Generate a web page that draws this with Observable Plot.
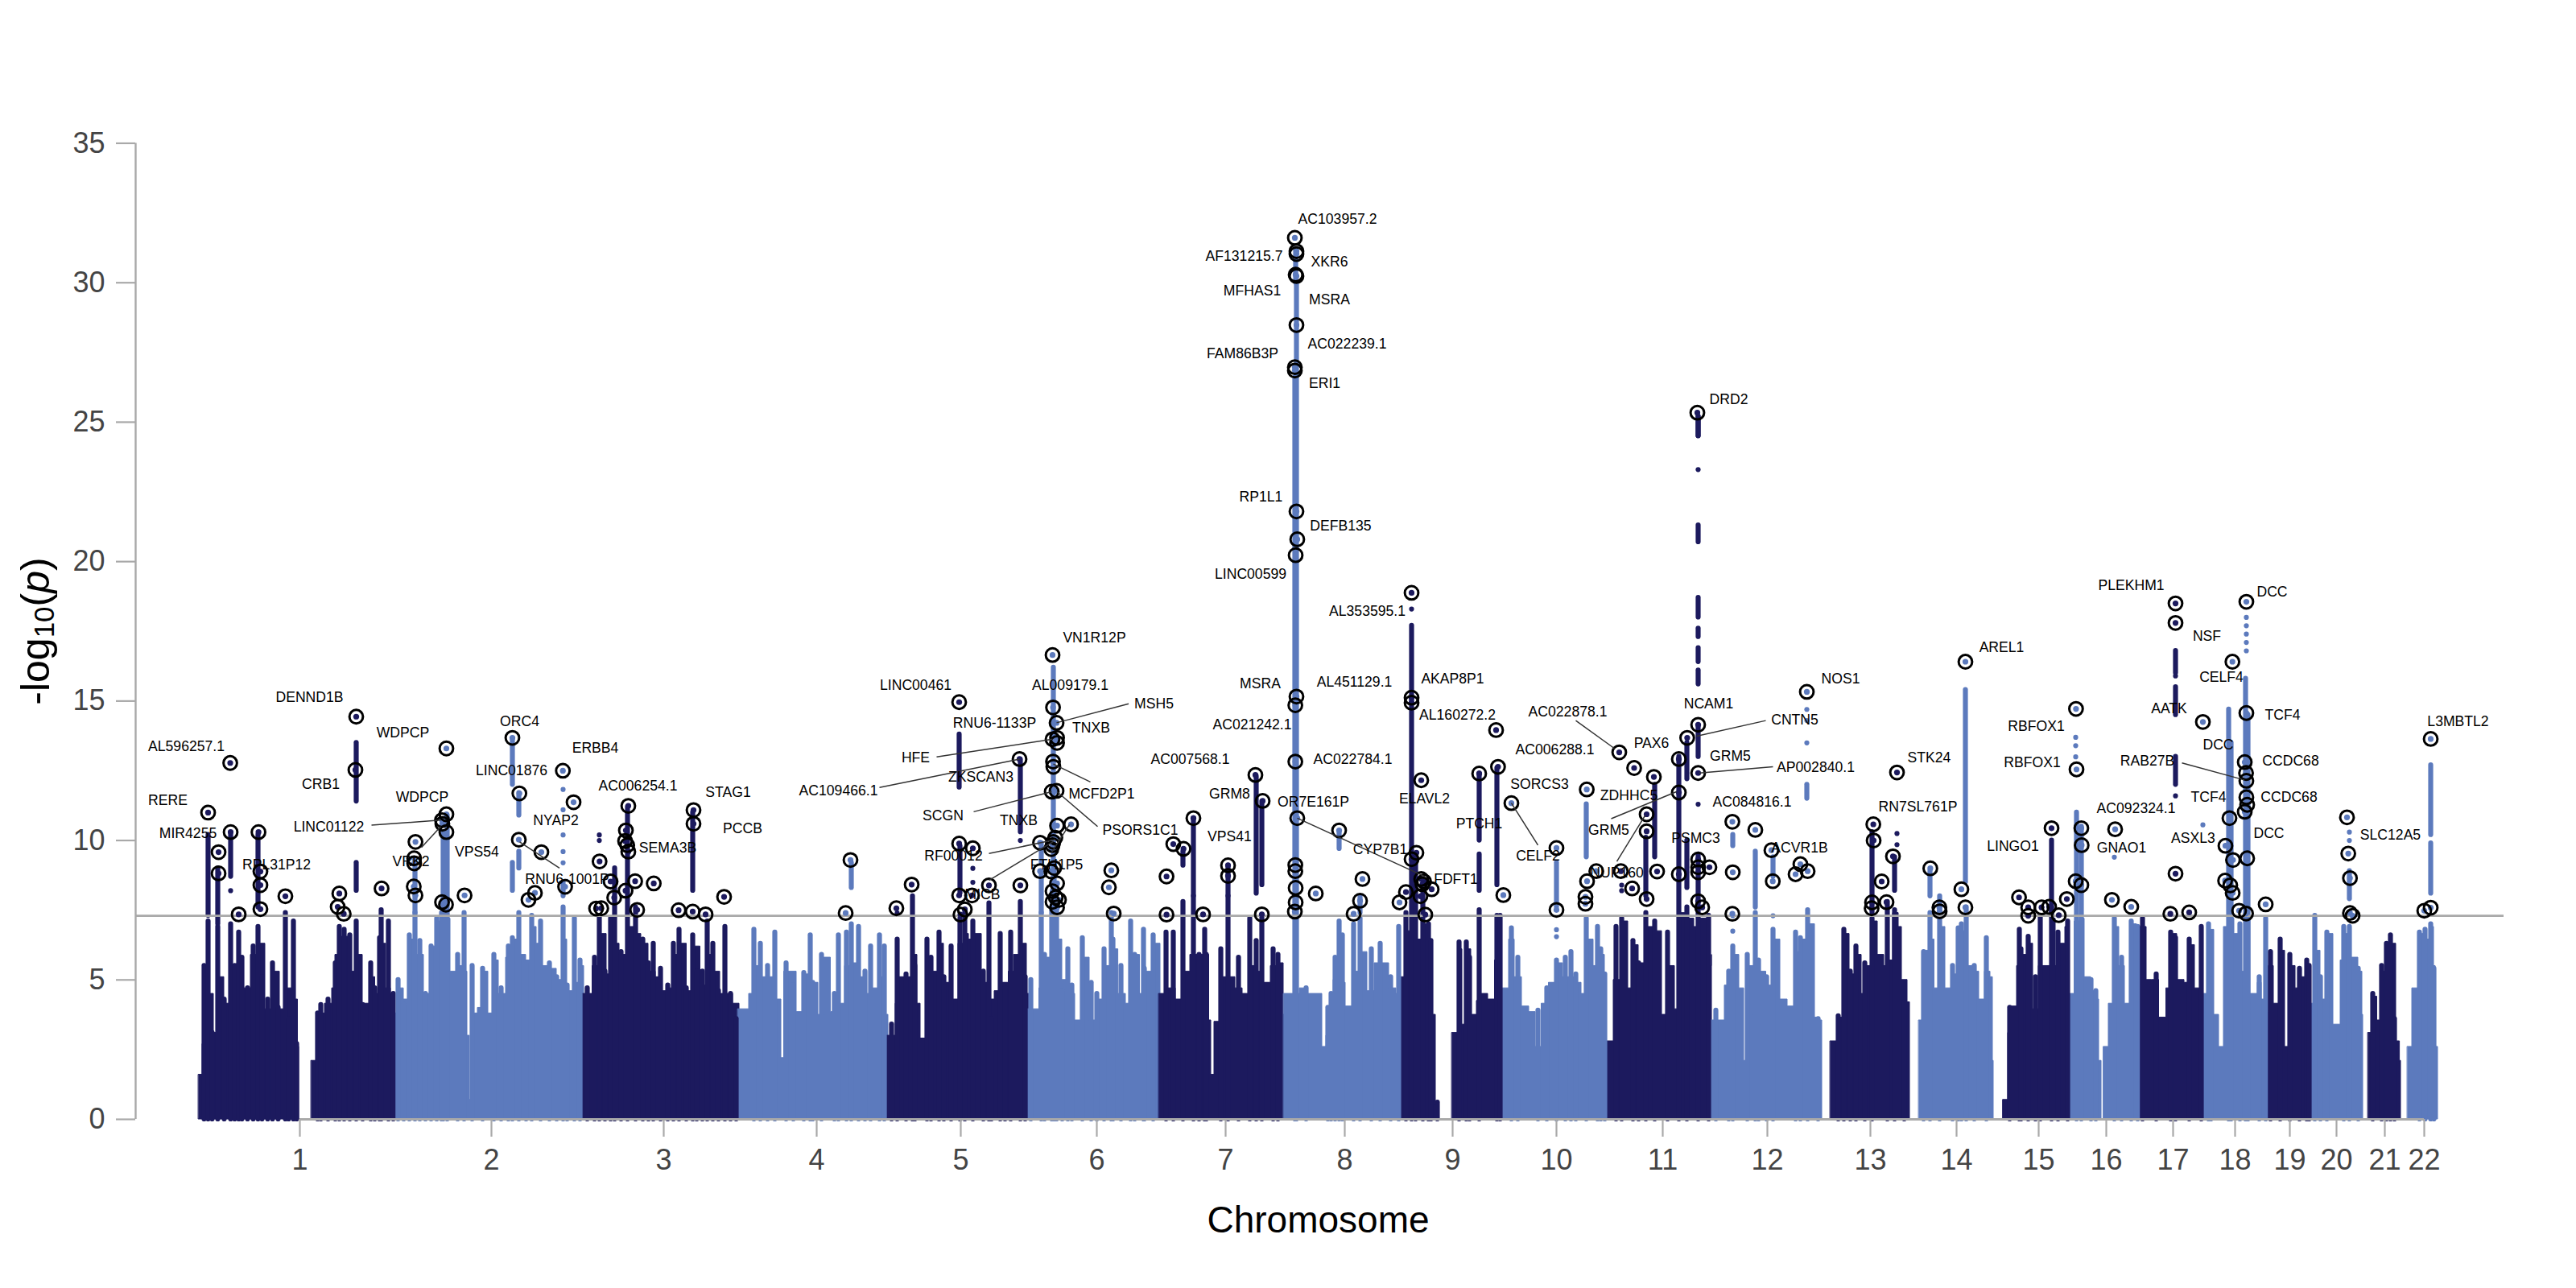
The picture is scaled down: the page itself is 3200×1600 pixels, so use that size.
<!DOCTYPE html>
<html><head><meta charset="utf-8">
<style>html,body{margin:0;padding:0;background:#fff}svg{display:block}</style>
<script src="https://cdn.jsdelivr.net/npm/d3@7"></script>
<script src="https://cdn.jsdelivr.net/npm/@observablehq/plot@0.6"></script>
</head><body><div id="chart"></div>
<script>
// x = cumulative genome position (Mb-like units), y = -log10(p)
const chromNames = ["1","2","3","4","5","6","7","8","9","10","11","12","13","14","15","16","17","18","19","20","21","22"];
const chromCentres = [124,362,576,766,945,1114,1274,1422,1556,1685,1817,1947,2075,2182,2284,2368,2451,2528,2596,2654,2714,2763];
const chromEnds = [241,477,670,855,1030,1193,1348,1491,1616,1747,1878,2015,2124,2228,2321,2408,2487,2567,2621,2687,2734,2781];
const genomeLine = 7.3;

// solid silhouette, one block per contiguous chromosome stretch
const blockChrom = [1,1,2,3,4,5,6,7,8,9,9,10,11,12,13,14,15,16,16,17,18,19,20,21,22];
const blockP = [
[0,3,8,17,23,30,37,46,54.5,63,72,81,90,99,108,117,121.5,123],
[140,146,155,164,168,175,184,193,202,211,217.5,224,231,237,241],
[241,246,253,260,269,278,287,296,304.5,311,320,327,332,335,338,345,351,358,365,371,380,387,396,405,412,418,425,434,443,450,456,465,472,477],
[477,479,487.5,496,505,512,521,530,539,548,557,566,574.5,583.5,590,597,604.5,612.5,621.5,630,637,646,653,662,670],
[670,673,682,688,694,703,712,722,725.5,732,741,750,759,768,775,783.5,792,801,810,819,826,835,844,852,855],
[855,857,864,868,879.5,886,891,895,902,908.5,917.5,924,933,942,949,955,962,971,980,987,995.5,1004.5,1011,1020,1027,1030],
[1030,1033.5,1042.5,1049,1060,1071,1080,1087,1096,1105,1114,1123,1132,1140.6,1150,1158.5,1167.5,1176,1185,1193],
[1193,1196,1203,1212,1221,1230,1239,1248,1253.5,1256,1260,1268,1277,1286,1295,1304,1312.5,1321.5,1330,1339,1346,1348],
[1348,1353,1366,1375,1384,1394,1399,1408,1414,1423,1432,1441,1450,1459,1468,1477,1486,1491],
[1491,1492.5,1499,1506,1512.5,1519,1526,1531,1535],
[1557,1558,1564,1568,1573,1579,1586,1592,1600,1608.5,1613,1616],
[1616,1620,1626,1633,1642,1651,1659,1666.5,1675.5,1684,1693,1702,1710,1716,1722,1731,1738,1745,1747],
[1747,1749,1756,1765,1774,1780,1787,1796,1807,1816,1823,1832,1837,1847,1856,1863,1872,1878],
[1878,1881,1887.5,1894,1903,1912,1918,1923,1930,1937,1945.5,1954,1963,1972,1981,1988,1997,2006,2012,2015],
[2027,2028,2035,2042,2049,2057,2064,2071,2077,2084,2092,2099,2103,2110,2114,2121,2124],
[2137,2137.5,2141,2148,2154.5,2161,2168,2177,2183.5,2190,2195.5,2203,2210,2217,2224,2227,2228],
[2241.5,2246,2250.5,2257,2264,2270.5,2277,2284,2293,2300,2305,2311,2317,2321],
[2321,2322,2328.6,2335,2341,2349,2355,2359,2362],
[2366.5,2371,2378,2384,2391,2399,2406,2408],
[2408,2411,2418,2424.6,2433.5,2442.5,2449,2456,2465,2471.5,2478,2485,2487],
[2487,2491.5,2496,2502,2508,2514,2520.5,2527,2534,2541,2547,2556,2561,2567],
[2567,2569.6,2576,2583,2590,2596.5,2603,2610,2618,2621],
[2621,2623,2627.6,2634,2643,2650,2659,2665.6,2672,2681,2686,2687],
[2695,2700,2704.5,2710,2715,2721.5,2728,2732.6,2734],
[2744,2748,2757,2764,2770.6,2775,2777,2780]];
const blockV = [
[1.6,2.7,4.5,3.1,5.1,4.15,5.1,5.6,4.7,5.9,6.3,3.95,5.3,3.95,4.7,4.3,2.6,2.6],
[2.1,3.8,4.15,4.7,5.9,6.55,5.3,5.9,4.15,5.1,4.5,6.3,4.7,4.5,4.5],
[3.8,4.7,4.3,6.45,5.9,4.5,6.2,7.1,7.2,5.3,5.5,5.3,3.0,0.7,3.8,4.0,5.3,3.8,5.7,4.5,5.8,6.45,5.9,5.7,6.9,6.3,5.5,5.4,5.0,6.45,4.6,4.9,5.5,5.5],
[4.5,4.5,5.5,6.65,5.2,6.3,5.9,6.9,6.65,6.3,5.3,5.1,4.6,4.7,5.9,6.3,4.6,6.2,4.8,5.9,5.3,4.5,4.5,4.15,3.4],
[3.95,3.95,4.5,5.5,5.1,5.1,4.3,2.2,5.3,5.3,3.85,5.2,4.9,3.75,5.8,3.85,4.15,5.5,5.6,5.1,4.5,4.7,5.1,3.75,3.75],
[3.0,3.0,4.15,5.1,5.1,5.9,4.15,2.9,4.0,5.3,6.3,4.9,4.3,6.3,6.65,6.45,6.65,4.9,4.3,4.6,4.9,5.3,5.9,6.3,4.5,4.5],
[3.95,3.95,4.7,5.8,6.45,5.0,4.5,3.55,5.8,3.55,4.3,5.5,6.1,4.5,4.15,5.9,4.5,5.3,6.3,6.3],
[4.5,4.5,4.7,4.3,5.3,5.9,5.9,5.9,3.55,1.6,3.5,5.1,5.1,4.7,4.5,5.5,5.3,4.9,5.5,5.6,3.75,3.75],
[4.5,4.5,4.7,4.5,4.5,2.6,3.0,5.0,4.9,4.05,5.3,6.0,4.6,5.6,5.6,4.7,4.5,4.5],
[5.1,5.1,6.75,6.9,6.45,7.0,5.5,3.75,0.5],
[3.1,3.1,6.1,3.4,6.1,3.75,4.25,4.5,4.3,5.7,6.45,6.45],
[4.7,4.7,6.45,5.1,4.05,3.85,2.6,4.15,4.9,5.6,5.1,5.1,4.9,4.5,6.45,5.5,5.9,5.1,5.1],
[2.8,2.8,5.0,7.1,4.7,6.25,5.6,6.9,6.75,3.75,5.5,3.95,7.4,7.2,6.9,7.2,5.5,5.9],
[3.55,3.55,3.55,4.8,5.9,4.7,2.1,5.5,3.75,5.3,4.8,6.45,4.3,4.05,6.0,6.45,7.0,3.65,3.55,3.55],
[2.8,2.8,3.65,6.65,5.2,5.9,4.5,5.5,7.1,5.9,5.5,5.7,7.4,6.9,5.0,4.2,4.2],
[3.55,3.55,6.05,6.45,4.7,6.9,4.7,5.2,5.7,6.75,5.5,5.3,4.3,5.3,5.1,2.1,2.1],
[0.7,3.1,4.05,5.5,5.9,6.3,3.95,5.5,5.5,7.2,5.5,6.3,6.9,6.9],
[4.5,4.5,7.1,7.2,5.1,4.6,4.3,2.1,0.7],
[2.6,4.15,6.9,5.5,4.15,7.0,6.3,6.3],
[6.9,6.9,5.0,5.0,3.65,4.7,6.65,5.0,4.9,6.25,4.7,4.5,4.5],
[4.5,4.5,6.8,3.75,2.6,6.9,7.2,6.65,5.3,7.2,4.5,4.9,4.3,4.3],
[3.85,5.5,4.15,6.05,2.6,5.5,4.7,5.1,5.3,5.3],
[4.15,4.15,6.05,4.3,6.65,3.4,5.7,6.65,5.8,5.3,3.75,3.75],
[3.1,4.4,3.55,5.3,6.05,6.3,2.8,2.1,2.1],
[2.6,4.7,6.65,6.45,6.9,5.5,2.6,2.6]];

// columns of points reaching down to the base
const spikeP = [5,10,15,22,30,38,43,48,52,59,66,72,77,84,90,97,106,110,116,120,
146,150,159,168,173,179,186,194,202,212,217,223,225,234,240,
246,253,260,267,273,280,287,294,300,302,307,320,328,338,351,365,374,383,388,396,405,412,423,434,443,451,456,465,472,
481,490,496,503,510,515,523,531,541,550,557,563,572,581,588,595,604,612,617,624,630,637,644,652,659,666,
688,696,705,714,728,737,750,758,761,772,788,793,803,809,818,826,833,844,850,
859,866,877,885,888,903,908,918,924,933,944,950,960,973,980,983,994,1000,1007,1019,1025,
1032,1045,1049,1058,1061,1064,1071,1078,1083,1096,1107,1114,1123,1132,1134,1144,1156,1161,1172,1173,1184,
1200,1209,1221,1234,1241,1248,1250,1268,1277,1290,1304,1312,1319,1333,1339,
1360,1362,1374,1401,1405,1410,1415,1419,1433,1441,1455,1466,1479,1489,
1498,1505,1510,1519,1526,1529,1537,
1564,1573,1577,1589,1611,1615,
1629,1637,1662,1673,1685,1696,1703,1709,1722,1736,1740,1745,
1759,1766,1780,1787,1796,1807,1823,1837,1847,1861,1874,
1883,1899,1904,1922,1932,1936,1946,1954,1982,1988,1997,2010,
2035,2042,2050,2057,2068,2077,2096,2105,2117,
2141,2149,2161,2177,2184,2188,2194,2204,2219,
2248,2260,2262,2271,2280,2286,2300,2308,2320,
2331,2337,2349,2355,2378,2387,2399,2407,
2413,2430,2448,2454,2471,2486,
2495,2498,2520,2523,2534,2541,2544,2558,2566,
2572,2584,2596,2608,2617,2620,
2627,2634,2642,2663,2670,2681,
2699,2710,2716,2721,2726,
2757,2764,2771,2775];
const spikeV = [5.5,7.1,3.1,6.9,4.3,7.0,5.5,6.7,5.8,4.7,6.2,6.9,5.1,4.3,5.6,4.0,7.4,3.6,7.1,2.7,
3.8,4.1,4.3,5.6,6.9,6.8,6.6,7.1,4.1,5.6,4.7,6.5,7.5,7.1,4.5,
5.0,4.1,6.6,7.4,6.4,4.5,6.2,7.2,7.4,7.6,7.3,5.9,7.4,5.5,5.4,5.9,4.7,6.2,6.5,7.4,5.6,7.3,7.1,5.6,5.1,7.6,4.8,7.2,5.7,
4.7,5.8,7.3,5.3,7.2,9.0,6.0,11.2,7.6,6.45,5.6,6.3,5.4,4.8,6.3,6.8,4.7,6.6,5.3,5.3,7.1,6.3,4.6,6.9,4.5,3.6,
6.8,6.3,5.5,6.7,5.6,4.8,5.25,6.6,4.9,5.9,4.5,6.6,6.7,7.0,6.9,5.3,6.2,6.6,6.2,
3.4,6.45,5.2,8.0,5.5,6.45,5.8,6.7,5.1,6.2,7.2,7.4,7.1,5.3,7.75,3.6,6.65,4.7,6.7,7.8,5.1,
5.0,7.4,5.9,7.6,9.0,7.6,4.6,6.1,4.8,6.5,4.9,4.5,6.1,7.4,6.45,5.5,7.1,5.9,6.8,5.4,6.6,
6.7,6.7,7.8,8.0,5.9,6.8,5.9,6.1,8.0,5.8,7.2,6.4,7.3,6.1,5.9,
26.6,30.0,4.7,4.0,4.5,5.8,7.1,6.6,7.0,7.2,6.1,6.3,5.1,6.9,
7.4,17.7,9.5,8.1,7.0,6.4,0.6,
6.35,6.35,5.8,7.5,7.3,7.3,
6.85,5.8,3.9,4.7,5.7,5.8,6.0,5.2,7.2,6.9,6.1,5.2,
6.9,7.2,6.4,5.6,7.4,7.1,6.7,13.0,7.6,7.6,7.3,
3.9,5.3,6.2,5.9,7.4,5.7,5.1,6.8,6.7,6.5,7.5,3.6,
3.7,6.8,5.3,6.2,5.6,7.2,7.8,7.5,4.2,
6.0,7.4,8.0,5.5,6.85,7.0,7.6,5.5,6.5,
4.0,6.8,6.1,6.55,5.1,7.3,7.6,6.7,7.1,
7.3,8.4,5.0,4.6,7.2,5.8,7.1,6.9,
7.2,5.2,6.7,6.5,6.45,6.9,
7.0,5.0,14.7,13.5,7.0,15.8,14.5,5.1,7.2,
6.0,6.45,5.9,5.4,5.7,5.5,
7.3,5.1,6.7,6.9,6.9,5.4,
4.5,5.5,6.3,6.6,3.6,
6.7,6.8,7.0,5.4];

// detached runs of points
const runP = [10,22,38,72,194,194,267,302,307,388,388,396,396,451,612,809,943,944,1019,1045,1045,1060,1221,1234,1277,1312,1319,1361,1415,1441,1589,1589,1611,1685,1722,1796,1807,1847,1847,1861,1861,1861,1861,1861,1861,1861,1861,1861,1904,1932,1954,1996,2077,2105,2149,2193,2300,2331,2337,2454,2454,2454,2670,2771,2771];
const runLo = [7.3,7.0,8.7,7.6,8.2,11.4,7.4,7.3,7.3,8.2,12.0,9.0,10.9,8.0,8.2,8.3,11.9,8.1,10.3,7.4,9.2,7.3,9.1,8.0,8.0,8.1,8.4,30.0,9.7,7.4,8.2,10.0,8.4,7.6,9.4,8.0,9.4,8.3,12.2,7.6,13.0,15.6,16.4,17.3,18.0,20.7,24.5,24.5,9.8,7.6,8.7,11.5,7.4,8.2,8.0,8.5,7.4,7.3,8.4,12.0,14.5,16.0,7.9,8.1,10.2];
const runHi = [10.2,9.0,10.2,10.2,9.2,13.5,9.2,10.3,10.9,9.2,13.6,9.6,11.7,8.5,11.0,9.2,13.8,9.8,12.9,8.9,9.9,16.2,9.6,10.8,9.1,12.3,11.4,31.2,10.3,8.0,9.5,12.4,12.6,9.2,11.3,10.1,12.0,10.0,13.5,9.5,14.1,16.1,16.9,17.6,18.7,21.3,25.2,25.2,10.2,9.6,9.4,12.0,10.3,9.4,8.9,15.4,10.0,11.0,10.5,13.0,15.5,16.8,8.9,9.9,12.7];

// single points
const dotP = [38,451,451,451,451,451,496,496,866,960,960,1019,1505,1685,1685,1766,1766,1861,1861,1904,1904,1954,1996,1996,1996,2108,2108,2330,2330,2330,2378,2454,2454,2488,2542,2542,2542,2542,2542,2670,2670];
const dotV = [8.2,9.6,9.2,10.2,11.83,11.1,10.2,10.0,7.4,9.0,8.5,10.0,18.3,6.8,6.55,8.4,8.2,23.3,11.3,6.75,7.3,7.3,14.7,14.3,13.5,10.25,9.85,13.7,13.4,13.0,9.4,15.9,11.6,10.56,18.0,17.7,17.4,17.1,16.8,10.0,10.3];

// lead SNPs, ringed
const leadP = [10,23,23,37.5,38,48,72.6,75,75,75,106,173,171,178.5,194,193,225.5,267.6,266,266,265.5,267.6,306,306,300.6,301,306,300.6,305.5,328.6,388,396.7,396,424,408,416,453.5,450.7,464,496.3,492,498.4,510,514.5,532,529,528,530.7,532,528.6,540.5,543,563.6,594.5,612,628,613,613,651,808,802,
865,884,943,943,960,943,950,944.6,959,980,1018,1019,1043.5,1043.5,1059,1059.6,1064,1059,1064.6,1064.6,1059.6,1060,1058,1064,1064.6,1082,1062.5,1060,1059,1057.5,1057.5,1061,1064.6,1059,1063,1067,1059,1064.6,1132,1129,1135,1209,1221.7,1234,1200.6,1200.6,1277,1277,1311,1320,1246,1319,
1362,1360.6,1360.6,1363,1360.6,1360.6,1361,1361,1360,1360,1362,1362,1361,1362,1362,1360,1360,1362,1363,1361,1505,
1386,1415,1444,1441,1433,1490,1498,1505,1505,1517,1511,1505,1517,1520.5,1518.5,1530,1516,1522,1610,1612.4,1589,1619,1629,1685,1685,1722.6,1723,1721,1721,1763,1781.5,1806,1797,1797,1765,1779,1810,1797,1734.5,1837,1837,1837,1847.4,1860,1861,1861,1861,1861,1861,1875,1861,1866,1903.5,1904,1903.5,1932,
1952,1953.7,1988,1982,1997,1996,2078.6,2079,2103,2089,2095,2077,2076.5,2108,2149.4,2160.7,2161,2188,2193,2193,2259.6,2271,2271,2287.6,2297,2309,2300,2319,2330.4,2331,2337,2337.4,2330,2337,2375,2399,2379,2447.6,2454,2471,2488,2516,2521,2525.4,2515.6,2522,2525,2533,2541.6,2524.7,2542,2540,2541.6,2542,2542,2543,2540,2543,2566,2667,2668.6,2670.7,2670.7,2674,2771,2763,2771,2454,2454,2542];
const leadV = [11.0,9.58,8.82,12.78,10.3,7.35,10.3,8.89,8.4,7.54,8.0,8.1,7.62,7.37,14.44,12.53,8.28,9.95,9.36,9.18,8.35,8.03,13.3,10.94,10.73,10.6,10.3,7.79,7.7,8.03,13.68,11.69,10.03,9.58,7.87,8.12,8.34,12.5,11.37,9.25,7.56,7.57,8.53,7.95,11.24,10.36,9.98,9.83,9.6,8.2,8.54,7.51,8.46,7.5,7.45,7.35,11.09,10.6,7.98,9.3,7.4,
7.57,8.42,14.96,9.89,9.72,8.03,7.53,7.34,8.03,8.39,12.92,8.39,9.92,8.9,16.65,14.77,14.22,13.63,13.68,13.5,12.83,12.64,11.75,11.78,10.53,10.58,10.1,9.95,9.83,9.69,8.89,9.01,8.46,8.18,7.96,7.87,7.8,7.6,8.93,8.32,7.38,9.87,9.7,10.8,8.71,7.34,9.11,8.73,12.35,11.42,7.35,7.35,
15.16,14.85,12.83,10.8,9.12,8.9,8.3,7.78,7.45,31.61,31.13,31.03,30.29,30.24,28.48,26.97,26.85,21.8,20.8,20.23,18.88,
8.1,10.36,8.62,7.84,7.37,7.78,8.15,15.12,14.94,12.16,9.56,9.33,8.62,8.53,8.43,8.25,8.0,7.34,13.96,12.64,12.4,8.04,11.34,9.73,7.51,11.83,8.54,7.98,7.73,13.16,12.6,12.28,10.94,10.33,8.9,8.28,8.89,7.9,8.9,12.92,11.72,8.79,13.68,25.34,14.15,12.42,9.32,9.04,8.86,9.04,7.82,7.6,10.67,8.86,7.37,10.38,
9.65,8.54,9.15,8.79,8.9,15.33,10.58,10.0,9.43,8.53,7.79,7.78,7.57,12.44,9.0,7.6,7.46,8.25,7.6,16.41,7.96,7.6,7.3,7.6,7.62,7.32,10.44,7.9,14.72,12.55,10.44,9.83,8.54,8.4,7.87,7.62,10.4,7.37,8.81,7.42,14.25,9.81,10.8,9.3,8.56,8.39,8.12,7.48,7.38,16.41,14.57,12.81,12.42,12.14,11.55,11.28,11.03,9.36,7.71,10.83,9.53,8.65,7.4,7.3,13.64,7.48,7.59,18.5,17.8,18.56];

// gene labels
const labelText = ["AC103957.2","AF131215.7","XKR6","MFHAS1","MSRA","AC022239.1","FAM86B3P","ERI1","RP1L1","DEFB135","LINC00599","AL353595.1","VN1R12P","AL451129.1","AKAP8P1","MSRA","LINC00461","AL009179.1","MSH5","DENND1B","WDPCP","ORC4","AL596257.1","AC021242.1","RNU6-1133P","TNXB","AL160272.2","AC022878.1","NOS1","AREL1","DRD2","NCAM1","CNTN5","PAX6","AC006288.1","GRM5","AP002840.1","HFE","ERBB4","LINC01876","ZKSCAN3","AC007568.1","AC022784.1","CRB1","AC109466.1","RERE","MIR4255","SCGN","MCFD2P1","GRM8","OR7E161P","ELAVL2","SORCS3","ZDHHC5","AC084816.1","STK24","RN7SL761P","RBFOX1","RBFOX1","AC092324.1","RAB27B","CELF4","TCF4","TCF4","DCC","CCDC68","CCDC68","AATK","NSF","PLEKHM1","DCC","L3MBTL2","SLC12A5","DCC","ASXL3","GNAO1","LINGO1","ACVR1B","PSMC3","GRM5","NUP160","FDFT1","CYP7B1","CELF2","PTCH1","VPS41","PSORS1C1","TNXB","RF00012","FTH1P5","MICB","VPS54","WDPCP","LINC01122","VRK2","NYAP2","RNU6-1001P","SEMA3B","AC006254.1","STAG1","PCCB","RPL31P12"];
const labelP = [1413,1297,1403,1307,1403,1425,1295,1397,1318,1417,1305,1450,1111,1434,1556,1317,889,1081,1185,136,252,397,-17,1307,987,1107,1562,1699,2038,2238,1899,1874,1981,1803,1683,1901,2007,889,491,387,970,1230,1432,150,793,-40,-15,923,1120,1279,1383,1521,1664,1775,1928,2148,2134,2281,2276,2405,2419,2511,2587,2495,2507,2597,2595,2446,2493,2399,2574,2805,2721,2570,2476,2387,2252,1987,1858,1750,1760,1560,1466,1662,1589,1279,1168,1017,936,1064,972,344,276,160,262,442,456,581,544,656,674,95];
const labelV = [32.29,30.94,30.76,29.7,29.4,27.81,27.46,26.4,22.33,21.27,19.56,18.21,17.27,15.67,15.79,15.62,15.56,15.56,14.91,15.14,13.85,14.26,13.38,14.14,14.2,14.02,14.5,14.61,15.79,16.91,25.81,14.91,14.32,13.49,13.26,13.02,12.61,12.96,13.32,12.49,12.26,12.9,12.9,12.02,11.79,11.43,10.25,10.9,11.67,11.67,11.37,11.49,12.02,11.61,11.37,12.96,11.2,14.08,12.79,11.14,12.85,15.85,14.5,11.55,13.44,12.85,11.55,14.73,17.32,19.15,18.92,14.26,10.19,10.25,10.08,9.72,9.78,9.72,10.08,10.37,8.84,8.6,9.66,9.43,10.6,10.14,10.37,10.72,9.43,9.13,8.07,9.6,11.55,10.49,9.25,10.72,8.6,9.72,11.96,11.73,10.43,9.13];

// leader lines from label to lead SNP
const linkP1 = [213,275,397,1153.6,915,844,1106,1115,961,980,1080,980,1709,1945,1954,1753,1760,1662,1363,2462];
const linkV1 = [10.55,9.75,9.95,14.9,13.0,11.9,12.1,10.5,11.03,9.53,10.57,8.57,14.3,14.3,12.64,10.78,9.25,9.83,10.8,12.78];
const linkP2 = [299,299,446.5,1064,1059,1018,1060,1064.6,1058,1062.5,1058,1060,1757,1859,1862.5,1834,1795,1629,1522,2539.5];
const linkV2 = [10.73,10.5,9.01,14.22,13.63,12.92,12.74,11.75,11.75,10.03,9.58,9.96,13.3,13.74,12.42,11.75,10.89,11.34,8.7,12.17];

const darkBlue = "#1c1a5e", lightBlue = "#5c7abd", axisGrey = "#a9a9a9", inkGrey = "#444444";
const parity = p => (d3.bisectLeft(chromEnds, p) % 2 === 0 ? "odd" : "even");

// blocks overlap their left neighbour slightly so no seam shows between chromosomes
const blocks = blockP.flatMap((ps, b) => ps.map((p, i) => ({p: i === 0 ? p - 1.5 : p, v: blockV[b][i], b, g: blockChrom[b] % 2 ? "odd" : "even"})));
const spikes = spikeP.map((p, i) => ({p, v: spikeV[i], g: parity(p)}));
const runs = runP.map((p, i) => ({p, lo: runLo[i], hi: runHi[i], g: parity(p)}));
const dots = dotP.map((p, i) => ({p, v: dotV[i], g: parity(p)}));
const leads = leadP.map((p, i) => ({p, v: leadV[i], g: parity(p)}));
const labels = labelText.map((t, i) => ({t, p: labelP[i], v: labelV[i]}));
const links = linkP1.map((p, i) => ({p1: p, v1: linkV1[i], p2: linkP2[i], v2: linkV2[i]}));

const pointWidth = 6.2;
const chart = Plot.plot({
  width: 3200, height: 1600,
  marginLeft: 168, marginRight: 90, marginTop: 177.5, marginBottom: 210,
  style: {fontFamily: "'Liberation Sans', Arial, sans-serif", background: "#fff"},
  x: {domain: [-80, 2862]},
  y: {domain: [0, 35]},
  color: {domain: ["odd", "even"], range: [darkBlue, lightBlue]},
  marks: [
    Plot.areaY(blocks, {x: "p", y: "v", z: "b", fill: "g", stroke: "g", strokeWidth: 1, curve: "step-after"}),
    Plot.ruleX(spikes, {x: "p", y1: 0, y2: "v", stroke: "g", strokeWidth: pointWidth, strokeLinecap: "round"}),
    Plot.ruleX(runs, {x: "p", y1: "lo", y2: "hi", stroke: "g", strokeWidth: pointWidth, strokeLinecap: "round"}),
    Plot.dot(dots, {x: "p", y: "v", r: 3.1, fill: "g"}),
    Plot.ruleY([genomeLine], {stroke: axisGrey, strokeWidth: 2.6}),
    Plot.ruleX([-80], {y1: 0, y2: 35, stroke: axisGrey, strokeWidth: 2.4}),
    Plot.ruleY([0], {x1: chromCentres[0], x2: chromCentres[21], stroke: axisGrey, strokeWidth: 3}),
    Plot.axisY({anchor: "left", ticks: [0,5,10,15,20,25,30,35], tickSize: 24, tickPadding: 14, fontSize: 36, stroke: axisGrey, strokeWidth: 2.2, fill: inkGrey, label: null, tickFormat: d => String(d)}),
    Plot.axisX(chromCentres, {anchor: "bottom", tickSize: 22, tickPadding: 15, fontSize: 36, stroke: axisGrey, strokeWidth: 2.2, fill: inkGrey, label: null, tickFormat: d => chromNames[chromCentres.indexOf(d)]}),
    Plot.dot(leads, {x: "p", y: "v", r: 3.6, fill: "g"}),
    Plot.dot(leads, {x: "p", y: "v", r: 8.4, stroke: "#000", strokeWidth: 3, fill: "none"}),
    Plot.link(links, {x1: "p1", y1: "v1", x2: "p2", y2: "v2", stroke: "#333", strokeWidth: 1.5}),
    Plot.text(labels, {x: "p", y: "v", text: "t", fontSize: 17.6, fill: "#000"}),
    Plot.text(["Chromosome"], {x: [1389], y: [-3.64], text: d => d, fontSize: 46, fill: "#000"})
  ]
});
document.getElementById("chart").append(chart);

// rotated y title with subscript and italic
const yt = d3.select(chart).append("text")
  .attr("transform", "translate(48,784) rotate(-90)")
  .attr("text-anchor", "middle").attr("font-size", 50).attr("fill", "#000").attr("dominant-baseline","middle");
yt.append("tspan").text("-log");
yt.append("tspan").text("10").attr("font-size", 35).attr("dy", 10);
yt.append("tspan").text("(").attr("dy", -10);
yt.append("tspan").text("p").attr("font-style", "italic");
yt.append("tspan").text(")");
</script></body></html>
